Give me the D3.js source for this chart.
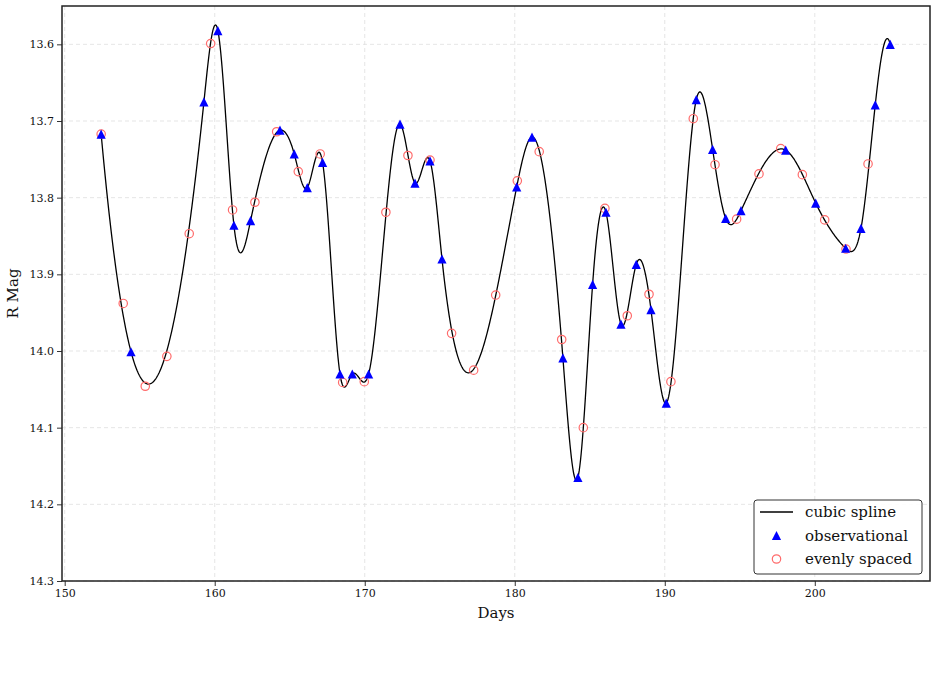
<!DOCTYPE html>
<html>
<head>
<meta charset="utf-8">
<script src="https://cdn.jsdelivr.net/npm/d3@7"></script>
<style>
  html, body { margin: 0; padding: 0; background: #ffffff; }
  svg { display: block; }
  text { font-family: "DejaVu Serif", "Liberation Serif", serif; fill: #111; }
</style>
</head>
<body>
<svg id="chart" width="937" height="675"></svg>
<script>
// ---- data ----
const obsDays = [152.43, 154.42, 159.28, 160.21, 161.28, 162.39, 164.35, 165.30, 166.17, 167.19,
                 168.35, 169.17, 170.26, 172.35, 173.35, 174.35, 175.15, 180.13, 181.15, 183.21,
                 184.21, 185.19, 186.08, 187.08, 188.10, 189.08, 190.10, 192.10, 193.19, 194.06,
                 195.08, 198.06, 200.06, 202.06, 203.08, 204.03, 205.03];
const obsMag = [13.717, 14.001, 13.675, 13.582, 13.836, 13.830, 13.712, 13.743, 13.787, 13.754,
                14.030, 14.030, 14.030, 13.704, 13.781, 13.752, 13.880, 13.786, 13.721, 14.009,
                14.165, 13.913, 13.819, 13.965, 13.887, 13.946, 14.068, 13.672, 13.737, 13.827,
                13.817, 13.738, 13.807, 13.866, 13.840, 13.679, 13.600];
const evenDays = [152.43, 153.90, 155.37, 156.81, 158.30, 159.73, 161.19, 162.68, 164.13, 165.57,
                  167.03, 168.53, 169.97, 171.41, 172.88, 174.35, 175.79, 177.26, 178.73, 180.17,
                  181.63, 183.13, 184.57, 186.01, 187.50, 188.95, 190.41, 191.90, 193.35, 194.79,
                  196.28, 197.73, 199.17, 200.66, 202.08, 203.55];
const evenMag = [13.717, 13.938, 14.046, 14.007, 13.847, 13.599, 13.816, 13.806, 13.714, 13.766,
                 13.743, 14.041, 14.040, 13.819, 13.745, 13.751, 13.977, 14.025, 13.927, 13.778,
                 13.740, 13.985, 14.100, 13.814, 13.954, 13.926, 14.040, 13.697, 13.757, 13.828,
                 13.769, 13.736, 13.770, 13.829, 13.867, 13.756];
const xTicks = [150, 160, 170, 180, 190, 200];
const yTicks = [13.6, 13.7, 13.8, 13.9, 14.0, 14.1, 14.2, 14.3];
const legendLabels = ["cubic spline", "observational", "evenly spaced"];

// ---- cubic spline (not-a-knot) through the observations ----
function cubicSpline(xs, ys) {
  const n = xs.length;
  const h = [];
  for (let i = 0; i < n - 1; i++) h.push(xs[i + 1] - xs[i]);
  const A = Array.from({length: n}, () => new Array(n).fill(0));
  const b = new Array(n).fill(0);
  A[0][0] = h[1]; A[0][1] = -(h[0] + h[1]); A[0][2] = h[0];
  for (let i = 1; i < n - 1; i++) {
    A[i][i - 1] = h[i - 1];
    A[i][i] = 2 * (h[i - 1] + h[i]);
    A[i][i + 1] = h[i];
    b[i] = 6 * ((ys[i + 1] - ys[i]) / h[i] - (ys[i] - ys[i - 1]) / h[i - 1]);
  }
  A[n - 1][n - 3] = h[n - 2]; A[n - 1][n - 2] = -(h[n - 3] + h[n - 2]); A[n - 1][n - 1] = h[n - 3];
  for (let c = 0; c < n; c++) {
    let p = c;
    for (let r = c + 1; r < n; r++) if (Math.abs(A[r][c]) > Math.abs(A[p][c])) p = r;
    [A[c], A[p]] = [A[p], A[c]]; [b[c], b[p]] = [b[p], b[c]];
    for (let r = c + 1; r < n; r++) {
      const f = A[r][c] / A[c][c];
      if (f === 0) continue;
      for (let k = c; k < n; k++) A[r][k] -= f * A[c][k];
      b[r] -= f * b[c];
    }
  }
  const M = new Array(n).fill(0);
  for (let r = n - 1; r >= 0; r--) {
    let s = b[r];
    for (let k = r + 1; k < n; k++) s -= A[r][k] * M[k];
    M[r] = s / A[r][r];
  }
  return function(x) {
    let i = d3.bisectRight(xs, x) - 1;
    i = Math.max(0, Math.min(n - 2, i));
    const hi = h[i], a = xs[i + 1] - x, t = x - xs[i];
    return M[i] * a * a * a / (6 * hi) + M[i + 1] * t * t * t / (6 * hi)
      + (ys[i] / hi - M[i] * hi / 6) * a + (ys[i + 1] / hi - M[i + 1] * hi / 6) * t;
  };
}

// ---- layout ----
const svg = d3.select("#chart");
const L = 62, R = 930, T = 6, B = 581;
const x = d3.scaleLinear().domain([149.82, 207.68]).range([L, R]);
const y = d3.scaleLinear().domain([13.55, 14.3]).range([T, B]);

// grid
const grid = svg.append("g");
grid.selectAll("line.gx").data(xTicks).join("line")
  .attr("x1", d => x(d)).attr("x2", d => x(d)).attr("y1", T).attr("y2", B)
  .attr("stroke", "#dedede").attr("stroke-width", 0.8).attr("stroke-dasharray", "4,3");
grid.selectAll("line.gy").data(yTicks).join("line")
  .attr("x1", L).attr("x2", R).attr("y1", d => y(d)).attr("y2", d => y(d))
  .attr("stroke", "#dedede").attr("stroke-width", 0.8).attr("stroke-dasharray", "4,3");

// axes
const xAxis = svg.append("g").attr("transform", `translate(0,${B})`)
  .call(d3.axisBottom(x).tickValues(xTicks).tickFormat(d3.format("d")).tickSize(5).tickPadding(3));
const yAxis = svg.append("g").attr("transform", `translate(${L},0)`)
  .call(d3.axisLeft(y).tickValues(yTicks).tickFormat(d3.format(".1f")).tickSize(5).tickPadding(3));
[xAxis, yAxis].forEach(g => {
  g.select(".domain").remove();
  g.selectAll("text").attr("font-size", 11).attr("font-family", "DejaVu Serif").attr("fill", "#111");
  g.selectAll("line").attr("stroke", "#333").attr("stroke-width", 1);
});

// spline curve
const spline = cubicSpline(obsDays, obsMag);
const x0 = obsDays[0], x1 = obsDays[obsDays.length - 1];
const curvePts = d3.range(0, 1201).map(i => {
  const d = x0 + (x1 - x0) * i / 1200;
  return [d, spline(d)];
});
svg.append("path").datum(curvePts)
  .attr("fill", "none").attr("stroke", "#000").attr("stroke-width", 1.3)
  .attr("d", d3.line().x(d => x(d[0])).y(d => y(d[1])));

// evenly spaced circles
svg.append("g").selectAll("circle").data(evenDays).join("circle")
  .attr("cx", d => x(d)).attr("cy", (d, i) => y(evenMag[i])).attr("r", 4.2)
  .attr("fill", "none").attr("stroke", "#ff6b6b").attr("stroke-width", 1.2);

// observational triangles
function triPath(s) { return `M0,${-s}L${s},${s}L${-s},${s}Z`; }
svg.append("g").selectAll("path").data(obsDays).join("path")
  .attr("transform", (d, i) => `translate(${x(d)},${y(obsMag[i])})`)
  .attr("d", triPath(4.6)).attr("fill", "#0000ff");

// frame
svg.append("rect").attr("x", L).attr("y", T).attr("width", R - L).attr("height", B - T)
  .attr("fill", "none").attr("stroke", "#222").attr("stroke-width", 1.5);

// axis labels
svg.append("text").attr("x", (L + R) / 2).attr("y", 618).attr("text-anchor", "middle")
  .attr("font-size", 15).text("Days");
svg.append("text").attr("transform", `translate(18,${(T + B) / 2}) rotate(-90)`)
  .attr("text-anchor", "middle").attr("font-size", 15).text("R Mag");

// legend
const lg = svg.append("g").attr("transform", "translate(754,500)");
lg.append("rect").attr("width", 168).attr("height", 74).attr("rx", 3)
  .attr("fill", "#fff").attr("fill-opacity", 0.9).attr("stroke", "#333").attr("stroke-width", 1);
const rowY = [12, 35.5, 59];
lg.append("line").attr("x1", 6).attr("x2", 39).attr("y1", rowY[0]).attr("y2", rowY[0])
  .attr("stroke", "#000").attr("stroke-width", 1.3);
lg.append("path").attr("transform", `translate(22.5,${rowY[1]})`).attr("d", triPath(4.6)).attr("fill", "#0000ff");
lg.append("circle").attr("cx", 22.5).attr("cy", rowY[2]).attr("r", 4.2)
  .attr("fill", "none").attr("stroke", "#ff6b6b").attr("stroke-width", 1.2);
lg.selectAll("text").data(legendLabels).join("text")
  .attr("x", 51).attr("y", (d, i) => rowY[i] + 5).attr("font-size", 15).text(d => d);
</script>
</body>
</html>
